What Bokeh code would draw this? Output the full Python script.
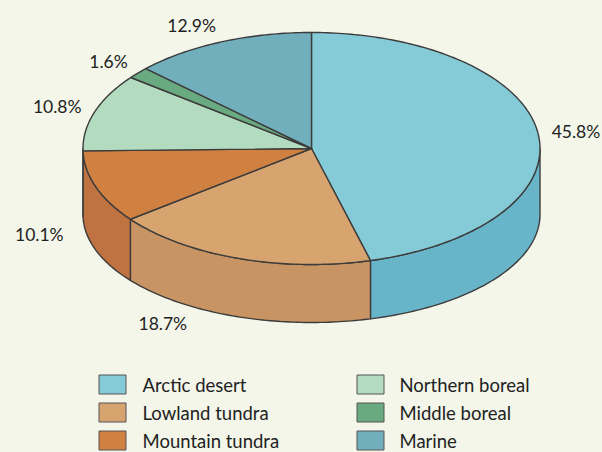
import numpy as np
from bokeh.plotting import figure
from bokeh.models import Range1d, GlobalInlineStyleSheet
from bokeh.embed import file_html
from bokeh.resources import INLINE
from bokeh.core.properties import value

# ---- data ----
categories = ["Arctic desert", "Lowland tundra", "Mountain tundra",
              "Northern boreal", "Middle boreal", "Marine"]
shares = [45.8, 18.7, 10.1, 10.8, 1.6, 12.9]
label_texts = ["45.8%", "18.7%", "10.1%", "10.8%", "1.6%", "12.9%"]
top_colors = ["#85CAD7", "#D7A470", "#D08040", "#B3DBC0", "#6AAA80", "#72AFBD"]
side_colors = ["#68B5CA", "#C89464", "#C07240", "#9CC8A8", "#5A9A70", "#629FAD"]

BG = "#F3F6E9"
EDGE = "#3C3C3C"
FONT = "Lato"

W, H = 602, 452
p = figure(width=W, height=H, x_range=Range1d(0, W), y_range=Range1d(H, 0),
           output_backend="svg", toolbar_location=None, min_border=0)
p.axis.visible = False
p.grid.visible = False
p.outline_line_color = None
p.background_fill_color = BG
p.border_fill_color = BG
p.stylesheets = [GlobalInlineStyleSheet(css="html, body { background-color: #F3F6E9; }")]

# pie geometry (screen-like coordinates, y grows downward)
cx, cy, a, b = 311.0, 148.0, 228.5, 116.0
cyb, bb = 214.0, 108.0

total = float(sum(shares))
cum = np.concatenate([[0.0], np.cumsum(shares)])
t_start = 90.0 - cum[:-1] * 360.0 / total
t_end = 90.0 - cum[1:] * 360.0 / total


def arc(t0, t1, yc, rb):
    n = max(3, int(abs(t1 - t0)) + 3)
    t = np.radians(np.linspace(t0, t1, n))
    return list(cx + a * np.cos(t)), list(yc - rb * np.sin(t))

# side faces (visible front half: -180..0 degrees)
sx, sy, sc = [], [], []
for i in range(len(shares)):
    hi = min(t_start[i], 0.0)
    lo = max(t_end[i], -180.0)
    if hi <= lo:
        continue
    tx, ty = arc(hi, lo, cy, b)
    bx, by = arc(lo, hi, cyb, bb)
    sx.append(tx + bx)
    sy.append(ty + by)
    sc.append(side_colors[i])
p.patches(xs=sx, ys=sy, fill_color=sc, line_color=EDGE, line_width=1.4, line_join="round")

# top faces
px, py = [], []
for i in range(len(shares)):
    ax_, ay_ = arc(t_start[i], t_end[i], cy, b)
    px.append([cx] + ax_)
    py.append([cy] + ay_)
p.patches(xs=px, ys=py, fill_color=top_colors, line_color=EDGE, line_width=1.4, line_join="round")

# percentage labels
lx, ly, lal = [], [], []
for i in range(len(shares)):
    m = np.radians((t_start[i] + t_end[i]) / 2.0)
    c, s = np.cos(m), np.sin(m)
    if s < 0:
        x = cx + 1.15 * a * c
        y = cy - b * s + (cyb - cy) * (-s) ** 0.3
        if s < -0.9:
            x -= 40
    else:
        x = cx + 1.06 * a * c
        y = cy - 1.15 * b * s
    lx.append(x)
    ly.append(y)
    lal.append("left" if c > 0.3 else ("right" if c < -0.3 else "center"))
p.text(x=lx, y=ly, text=label_texts, text_align=lal, text_baseline="middle",
       text_font=value(FONT), text_font_size="17.5px", text_color="#222222")

# legend
rows = 3
gx, gy, gtx = [], [], []
for i in range(len(categories)):
    col, row = i // rows, i % rows
    gx.append(112 + col * 258)
    gy.append(384 + row * 28)
    gtx.append(142 + col * 257)
p.rect(x=gx, y=gy, width=27, height=19, fill_color=top_colors,
       line_color="#555555", line_width=1)
p.text(x=gtx, y=gy, text=categories, text_baseline="middle",
       text_font=value(FONT), text_font_size="18.5px", text_color="#222222")

open("out.html", "w").write(file_html(p, INLINE))
